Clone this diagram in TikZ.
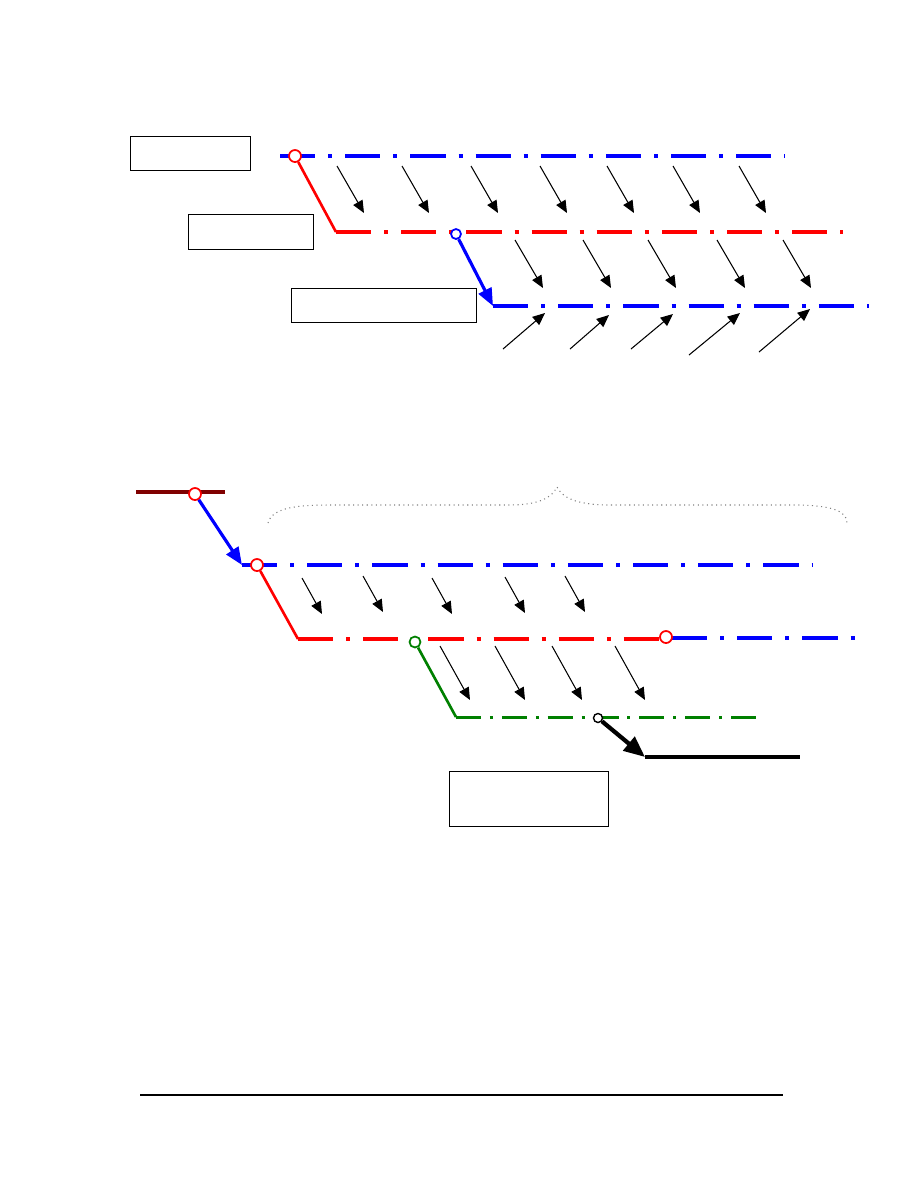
\documentclass[tikz,border=0pt]{standalone}
\usetikzlibrary{arrows.meta,positioning,calc}

\tikzset{
  box/.style={draw, line width=0.7pt, inner sep=0pt, anchor=north west},
  ring/.style={draw=#1, circle, fill=white, line width=1pt, minimum size=0.24cm, inner sep=0pt},
  chain/.style={line width=2.2pt, dash pattern=on 20pt off 7.4pt on 2.3pt off 7.4pt},
  finechain/.style={line width=1.7pt, dash pattern=on 14.2pt off 5.1pt on 1.7pt off 5.1pt},
  arr/.style={-{Triangle[length=7pt,width=6pt]}, line width=0.6pt},
  bigarr/.style={-{Triangle[length=10pt,width=8pt]}, line width=1.8pt},
}

\begin{document}
\begin{tikzpicture}[x=0.02cm,y=-0.02cm]
  \fill[white] (0,0) rectangle (918,1188);

  % upper part
  \node[box, minimum width=2.4cm, minimum height=0.68cm] (lab1) at (130,136) {};
  \node[box, minimum width=2.5cm, minimum height=0.7cm] (lab2) at (188,214) {};
  \node[box, minimum width=3.7cm, minimum height=0.68cm] (lab3) at (291,288) {};

  \coordinate (b1s) at (280,156);  \coordinate (b1e) at (785,156);
  \coordinate (r1s) at (336,232);  \coordinate (r1e) at (843,232);
  \coordinate (b2s) at (493,306);  \coordinate (b2e) at (869,306);

  \draw[chain, blue] (b1s) -- (b1e);
  \draw[chain, red] (r1s) -- (r1e);
  \draw[chain, blue, line width=1.8pt] (b2s) -- (b2e);

  \node[ring=red] (j1) at (295,156) {};
  \draw[red, line width=1.5pt] (j1) -- (r1s);
  \node[ring=blue, minimum size=0.2cm] (j2) at (456,234) {};
  \draw[bigarr, blue] (j2) -- (b2s);

  \foreach \x in {337,402,471,540,607,673,739}
    \draw[arr] (\x,166) -- ++(27,47);
  \foreach \x in {515,583,648,717,783}
    \draw[arr] (\x,240) -- ++(28,48);
  \foreach \x/\y/\u/\v in {503/349/545/313, 570/349/609/315, 631/349/673/314,
                           689/355/740/313, 759/352/810/309}
    \draw[arr] (\x,\y) -- (\u,\v);

  % lower part
  \coordinate (d0s) at (136,492);  \coordinate (d0e) at (225,492);
  \coordinate (b3s) at (242,565);  \coordinate (b3e) at (812,565);
  \coordinate (r2s) at (298,639);  \coordinate (r2e) at (664,639);
  \coordinate (b4s) at (672,638);  \coordinate (b4e) at (855,638);
  \coordinate (g1s) at (456,717);  \coordinate (g1e) at (758,717);
  \coordinate (k1s) at (645,757);  \coordinate (k1e) at (800,757);

  \draw[line width=2.2pt, red!50!black] (d0s) -- (d0e);
  \draw[chain, blue, line width=1.8pt] (b3s) -- (b3e);
  \draw[chain, red, line width=1.8pt] (r2s) -- (r2e);
  \draw[chain, blue, line width=1.8pt] (b4s) -- (b4e);
  \draw[finechain, green!50!black] (g1s) -- (g1e);
  \draw[line width=2.2pt] (k1s) -- (k1e);

  \node[ring=red] (j3) at (195,494) {};
  \draw[bigarr, blue] (j3) -- (b3s);
  \node[ring=red] (j4) at (257,565) {};
  \draw[red, line width=1.5pt] (j4) -- (r2s);
  \node[ring=green!50!black, minimum size=0.22cm] (j5) at (415,642) {};
  \draw[green!50!black, line width=1.5pt] (j5) -- (g1s);
  \node[ring=red] (j6) at (666,637) {};
  \node[ring=black, line width=0.8pt, minimum size=0.18cm] (j7) at (598,718) {};
  \draw[-{Triangle[length=12pt,width=10pt]}, line width=2.4pt] (j7) -- (k1s);

  \foreach \x/\y in {302/578, 363/576, 432/578, 505/577, 565/576}
    \draw[arr] (\x,\y) -- ++(20,36);
  \foreach \x in {440,495,552,615}
    \draw[arr] (\x,646) -- ++(30,54);

  \node[box, minimum width=3.18cm, minimum height=1.1cm] (lab4) at (449,771) {};

  % brace
  \draw[gray, dotted, line width=0.6pt] (268,523) .. controls (272,507) and (300,505) .. (330,505)
    -- (510,505) .. controls (540,505) and (552,497) .. (557,487)
    .. controls (562,497) and (575,505) .. (610,505) -- (800,505)
    .. controls (835,506) and (847,512) .. (847,523);

  % footer rule
  \draw[line width=0.7pt] (140,1095) -- (783,1095);
\end{tikzpicture}
\end{document}
